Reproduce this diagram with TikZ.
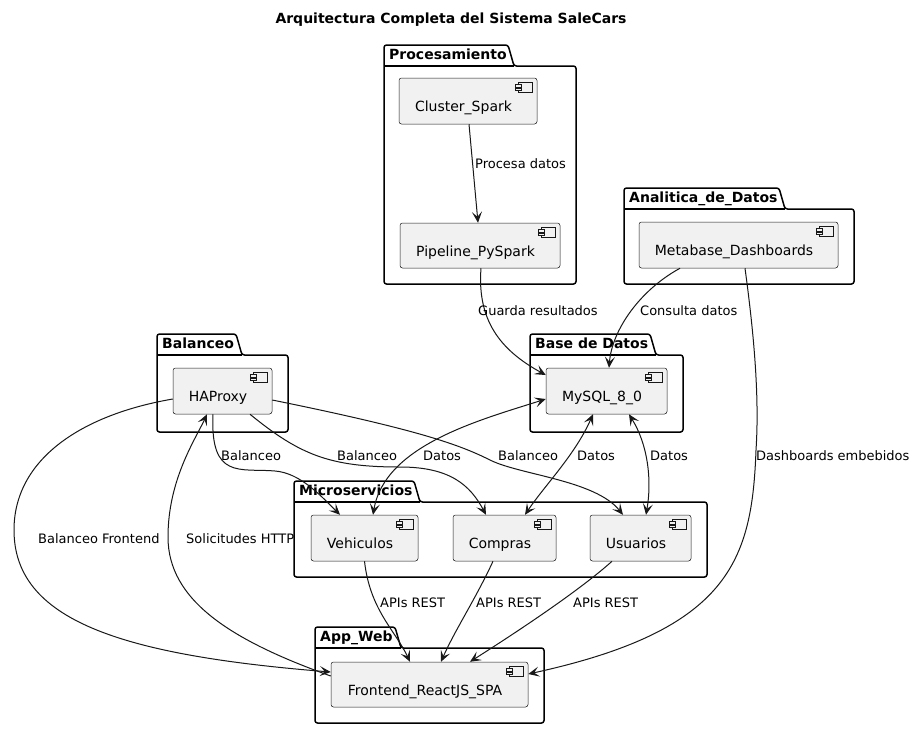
\documentclass[tikz,border=0pt]{standalone}
\usepackage{fontspec}
\setmainfont{DejaVu Sans}
\usetikzlibrary{arrows.meta}
\definecolor{compfill}{HTML}{F1F1F1}
\definecolor{linec}{HTML}{181818}
\newcommand\pkgshape[7]{% name, L, T, R, B, tabR, title
  \draw[pkgline] (#2,#3+21) -- (#2,#3) -- (#6,#3) -- (#6+6,#3+21) -- (#4,#3+21) -- (#4,#5) -- (#2,#5) -- cycle;
  \draw[line width=1.5pt] (#2,#3+21) -- (#6+6,#3+21);
  \node[ptitle] (#1) at (#2+5,#3+14) {#7};}
\newcommand\compicon[1]{%
  \draw[iconline] ([xshift=-19pt,yshift=-5pt]#1.north east) rectangle ([xshift=-5pt,yshift=-15pt]#1.north east);
  \draw[iconline] ([xshift=-22pt,yshift=-7pt]#1.north east) rectangle ([xshift=-16pt,yshift=-9.5pt]#1.north east);
  \draw[iconline] ([xshift=-22pt,yshift=-10.5pt]#1.north east) rectangle ([xshift=-16pt,yshift=-13pt]#1.north east);}
\begin{document}
\begin{tikzpicture}[x=1pt,y=-1pt,
  comp/.style={draw=linec, line width=0.5pt, fill=compfill, rounded corners=2.5pt, inner sep=0pt, minimum height=46pt},
  ctext/.style={font=\fontsize{14}{16}\selectfont, inner sep=0pt, anchor=base},
  lbl/.style={font=\fontsize{13}{15}\selectfont, inner sep=0pt, anchor=base west},
  ptitle/.style={font=\fontsize{14}{16}\selectfont\bfseries, inner sep=0pt, anchor=base west},
  pkgline/.style={draw=black, line width=1.5pt, rounded corners=2.5pt},
  iconline/.style={draw=linec, line width=0.6pt, fill=compfill},
  tipst/.tip={Stealth[length=11pt,width=10pt,inset=5pt]},
  conn/.style={draw=linec, line width=1pt, -tipst},
  dconn/.style={draw=linec, line width=1pt, tipst-tipst},
]
\fill[white] (0,0) rectangle (915,729);
\useasboundingbox (0,0) rectangle (915,729);

% title
\node[font=\fontsize{14}{16}\selectfont\bfseries, inner sep=0pt, anchor=base] (title) at (451,23) {Arquitectura Completa del Sistema SaleCars};

% packages
\pkgshape{pProc}{384}{45}{576}{284}{508}{Procesamiento}
\pkgshape{pAna}{624}{188}{854}{284}{779}{Analitica\_de\_Datos}
\pkgshape{pBal}{157}{334}{288}{432}{236}{Balanceo}
\pkgshape{pBD}{530}{334}{683}{432}{650}{Base de Datos}
\pkgshape{pMic}{294}{481}{707}{577}{414}{Microservicios}
\pkgshape{pApp}{315}{627}{544}{723}{395}{App\_Web}

% components
\node[comp, minimum width=138pt] (cs) at (468,101) {};
\node[comp, minimum width=160pt, minimum height=45pt] (pp) at (480,245.5) {};
\node[comp, minimum width=199pt] (mb) at (738.5,245) {};
\node[comp, minimum width=99pt] (hap) at (222.5,391) {};
\node[comp, minimum width=121pt] (my) at (606.5,391) {};
\node[comp, minimum width=107pt] (ve) at (364.5,538) {};
\node[comp, minimum width=103pt] (co) at (504.5,538) {};
\node[comp, minimum width=101pt] (us) at (640.5,538) {};
\node[comp, minimum width=197pt, minimum height=45pt] (fe) at (429.5,684.5) {};

\foreach \c in {cs,pp,mb,hap,my,ve,co,us,fe}{\compicon{\c}}

\node[ctext] (cst) at (463.5,111.5) {Cluster\_Spark};
\node[ctext] (ppt) at (475.5,256) {Pipeline\_PySpark};
\node[ctext] (mbt) at (734,255.5) {Metabase\_Dashboards};
\node[ctext] (hapt) at (218,401.5) {HAProxy};
\node[ctext] (myt) at (602,401.5) {MySQL\_8\_0};
\node[ctext] (vet) at (360,548.5) {Vehiculos};
\node[ctext] (cot) at (500,548.5) {Compras};
\node[ctext] (ust) at (636,548.5) {Usuarios};
\node[ctext] (fet) at (425,695) {Frontend\_ReactJS\_SPA};

% connectors
\draw[conn] ([xshift=1pt]cs.south) -- ([xshift=-2pt]pp.north);
\draw[conn] ([xshift=1pt]pp.south) .. controls (477,320) and (500,350) .. ([yshift=16pt]my.west);
\draw[conn] ([xshift=-58.5pt]mb.south) .. controls (640,290) and (612,330) .. ([xshift=2.5pt]my.north);
\draw[conn] ([xshift=6.5pt]mb.south) .. controls (752,320) and (760,390) .. (756,450) .. controls (752,560) and (730,630) .. ([yshift=10.5pt]fe.east);
\draw[conn] ([yshift=-8pt]hap.west) .. controls (80,415) and (14,460) .. (14,530) .. controls (14,620) and (120,655) .. ([yshift=12.5pt]fe.west);
\draw[conn] ([yshift=8.5pt]fe.west) .. controls (230,640) and (168,600) .. (168,537) .. controls (168,480) and (195,440) .. ([xshift=-15.5pt]hap.south);
\draw[conn] ([xshift=-9.5pt]hap.south) .. controls (210,480) and (240,468) .. (275,471) .. controls (300,473) and (320,495) .. ([xshift=-24.5pt]ve.north);
\draw[conn] ([xshift=27.5pt]hap.south) .. controls (300,455) and (330,467) .. (400,467) .. controls (450,467) and (470,485) .. ([xshift=-18.5pt]co.north);
\draw[conn] ([yshift=-9pt]hap.east) .. controls (420,430) and (460,445) .. (490,460) .. controls (520,475) and (595,480) .. ([xshift=-17.5pt]us.north);
\draw[dconn] ([yshift=-8pt]my.west) .. controls (480,420) and (385,445) .. ([xshift=8.5pt]ve.north);
\draw[dconn] ([xshift=-13.5pt]my.south) .. controls (575,455) and (545,485) .. ([xshift=20.5pt]co.north);
\draw[dconn] ([xshift=22.5pt]my.south) .. controls (648,445) and (652,480) .. ([xshift=5.5pt]us.north);
\draw[conn] (ve.south) .. controls (370,610) and (395,630) .. ([xshift=-19.5pt]fe.north);
\draw[conn] ([xshift=-11.5pt]co.south) .. controls (475,600) and (455,630) .. ([xshift=11.5pt]fe.north);
\draw[conn] ([xshift=-28.5pt]us.south) .. controls (580,590) and (520,630) .. ([xshift=40.5pt]fe.north);

% labels
\node[lbl] (l1) at (475,168) {Procesa datos};
\node[lbl] (l2) at (478,315) {Guarda resultados};
\node[lbl] (l3) at (640,315) {Consulta datos};
\node[lbl] (l4) at (221,460) {Balanceo};
\node[lbl] (l5) at (337,460) {Balanceo};
\node[lbl] (l6) at (498,460) {Balanceo};
\node[lbl] (l7) at (423,460) {Datos};
\node[lbl] (l8) at (577,460) {Datos};
\node[lbl] (l9) at (650,460) {Datos};
\node[lbl] (l10) at (756,460) {Dashboards embebidos};
\node[lbl] (l11) at (38,543) {Balanceo Frontend};
\node[lbl] (l12) at (186,543) {Solicitudes HTTP};
\node[lbl] (l13) at (380,607) {APIs REST};
\node[lbl] (l14) at (476,607) {APIs REST};
\node[lbl] (l15) at (573,607) {APIs REST};
\end{tikzpicture}
\end{document}
